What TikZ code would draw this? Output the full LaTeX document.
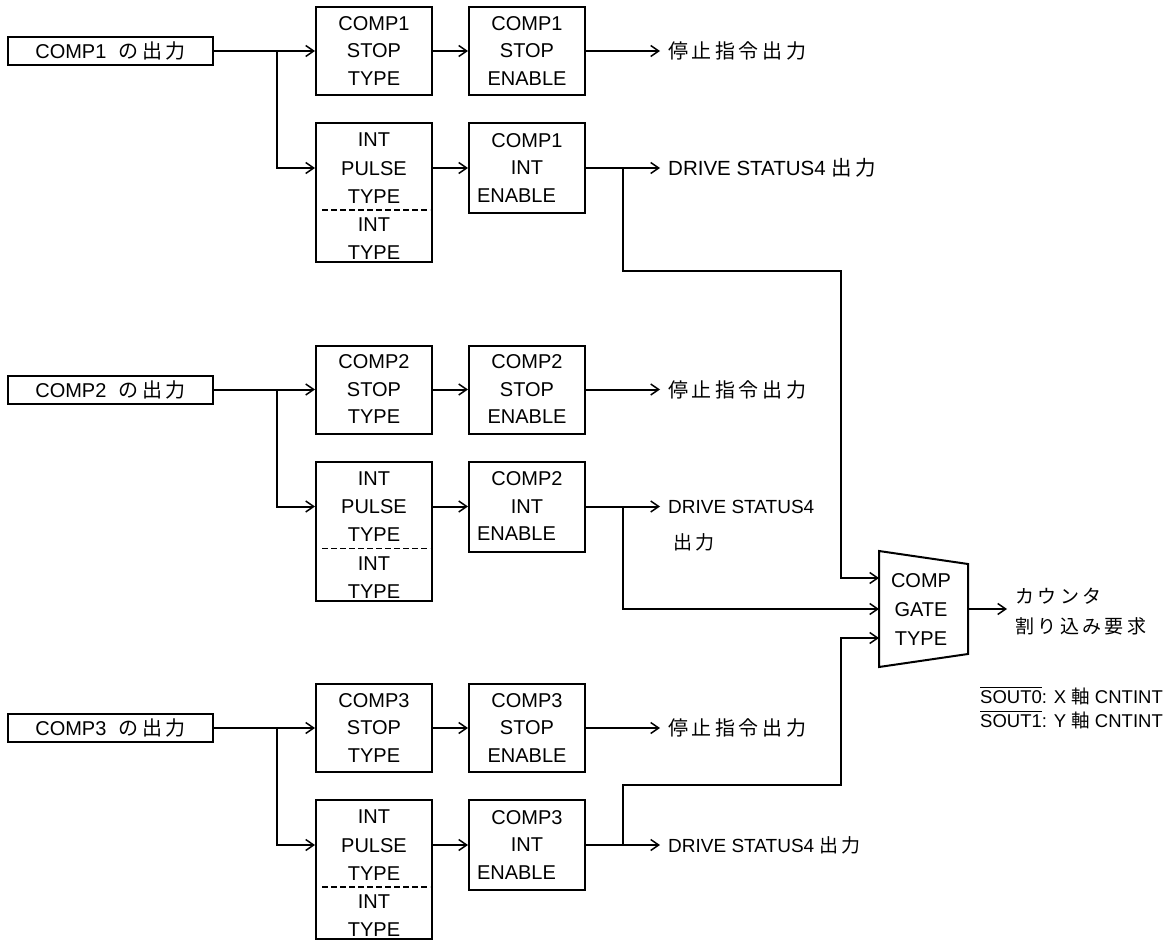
\documentclass[tikz,border=0pt]{standalone}
\usepackage{fontspec}
\setmainfont{Liberation Sans}
\newfontfamily\jpf{Noto Sans CJK JP}[LetterSpace=18]
\newcommand\jp[1]{{\jpf #1}}
\newcommand\ovl[1]{\vbox{\hrule height 1.3pt\kern 1.6pt\hbox{#1}}}
\usetikzlibrary{arrows.meta}
\begin{document}
\begin{tikzpicture}[x=1pt,y=-1pt,
  wire/.style={line width=2pt},
  arr/.style={line width=2pt,-{Straight Barb[length=8pt,width=11pt,line width=1.5pt]}},
  dline/.style={line width=1.8pt,dash pattern=on 5.5pt off 3.5pt},
  box/.style={draw,line width=2pt,inner sep=0pt,minimum width=116pt,align=center,font=\fontsize{20}{27.5}\selectfont},
  boxtxt/.style={inner sep=0pt,align=center,font=\fontsize{20}{28.25}\selectfont},
  inbox/.style={draw,line width=2pt,inner sep=0pt,minimum width=205pt,minimum height=28pt,font=\fontsize{20}{23}\selectfont},
  lab/.style={anchor=west,inner xsep=8pt,inner ysep=0pt,font=\fontsize{19.5}{24}\selectfont}]
\useasboundingbox (0,0) rectangle (1170,944);
\foreach \g/\oy in {1/0,2/338.5,3/677}{
  \node[inbox] (in\g) at (110.5,51+\oy) {COMP\g\hspace{0.6em}\jp{の出力}};
  \node[box,minimum height=88pt] (st\g) at (374,51+\oy) {COMP\g\\STOP\\TYPE};
  \node[box,minimum height=88pt] (se\g) at (527,51+\oy) {COMP\g\\STOP\\ENABLE};
  \node[box,minimum height=139pt] (ip\g) at (374,192.5+\oy) {};
  \node[boxtxt] (ipt\g) at (374,196.5+\oy) {INT\\PULSE\\TYPE\\INT\\TYPE};
  \node[box,minimum height=90pt] (ie\g) at (527,168+\oy) {COMP\g\\INT\\\makebox[100pt][l]{ENABLE}};
  \node[lab,font=\fontsize{20}{24}\selectfont] (sl\g) at (660,51+\oy) {\jp{停止指令出力}};
  \coordinate (br\g) at (277,51+\oy);
  \coordinate (j\g) at (623,168+\oy);
  \draw[arr] (in\g.east) -- (st\g.west);
  \draw[arr] (br\g) |- (ip\g.west |- ie\g);
  \draw[arr] (st\g.east) -- (se\g.west);
  \draw[arr] (ip\g.east |- ie\g) -- (ie\g.west);
  \draw[arr] (se\g.east) -- (sl\g.west);
  \draw[dline] (322,210+\oy) -- (430,210+\oy);
}
% DRIVE STATUS4 labels
\node[lab,font=\fontsize{20.5}{24}\selectfont] (dl1) at (660,168) {DRIVE STATUS4 \jp{出力}};
\node[lab,font=\fontsize{19}{24}\selectfont] (dl2) at (660,506.5) {DRIVE STATUS4};
\node[lab,font=\fontsize{19}{24}\selectfont] (dl2b) at (665,542) {\jp{出力}};
\node[lab,font=\fontsize{19}{24}\selectfont] (dl3) at (660,845) {DRIVE STATUS4 \jp{出力}};
\foreach \g in {1,2,3}{
  \draw[arr] (ie\g.east) -- (dl\g.west);
}
% gate
\coordinate (gA) at (879,551);
\coordinate (gB) at (968,564);
\coordinate (gC) at (968,654);
\coordinate (gD) at (879,667);
\draw[wire,line join=miter] (gA) -- (gB) -- (gC) -- (gD) -- cycle;
\node[inner sep=0pt,align=center,font=\fontsize{20}{29}\selectfont] (gate) at (921,610) {COMP\\GATE\\TYPE};
\coordinate (c1) at (841,271);
\coordinate (gin1) at (879,578);
\coordinate (gin2) at (879,609);
\coordinate (c3) at (841,785);
\coordinate (gin3) at (879,638);
\draw[arr] (j1) |- (c1) |- (gin1);
\draw[arr] (j2) |- (gin2);
\draw[arr] (j3) |- (c3) |- (gin3);
\coordinate (gout) at (968,609);
\node[lab,align=left,font=\fontsize{19}{30}\selectfont] (cnt) at (1007,612) {\jp{カウンタ}\\\jp{割り込み要求}};
\draw[arr] (gout) -- (gout -| cnt.west);
% SOUT notes
\node[anchor=base east,inner sep=0pt,font=\fontsize{18.5}{24}\selectfont] (so0) at (1163,703) {\ovl{SOUT0}: X \jp{軸} CNTINT};
\node[anchor=base east,inner sep=0pt,font=\fontsize{18.5}{24}\selectfont] (so1) at (1163,727) {\ovl{SOUT1}: Y \jp{軸} CNTINT};
\end{tikzpicture}
\end{document}
